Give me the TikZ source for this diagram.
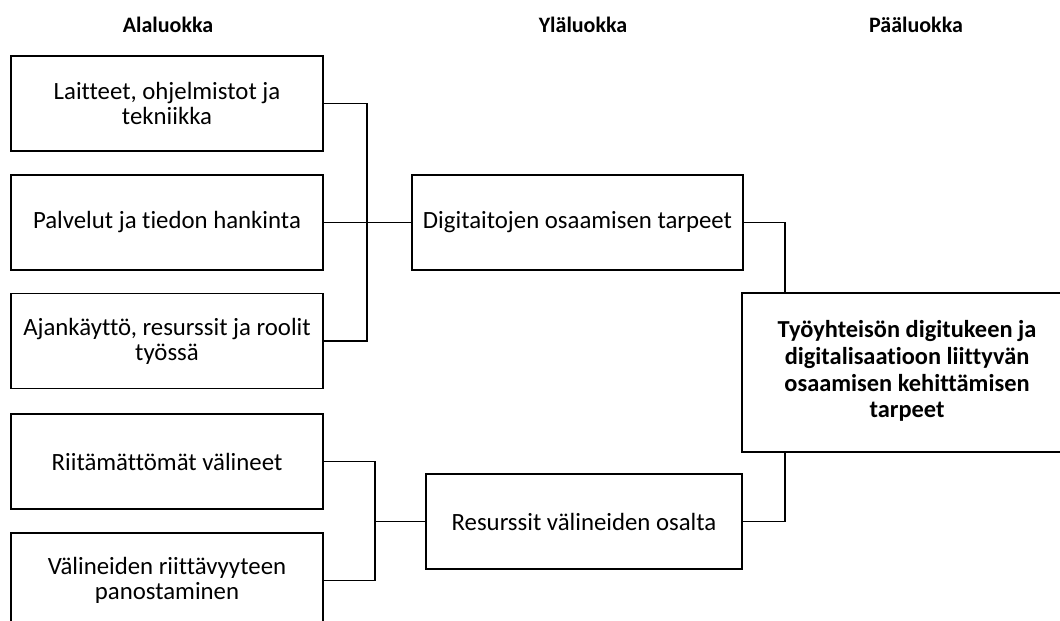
\documentclass[tikz,border=0pt]{standalone}
\usepackage{fontspec}
\setmainfont{Carlito}[Ligatures=NoCommon]
\begin{document}
\begin{tikzpicture}[x=1pt,y=-1pt,
  box/.style={draw=black,line width=1.6pt,minimum height=95pt,align=center,inner sep=0pt,
    font=\fontsize{24.8}{25}\selectfont},
  hdr/.style={font=\fontsize{22}{24}\selectfont\bfseries,inner sep=0pt},
  link/.style={draw=black,line width=1.6pt}]
\useasboundingbox (0,0) rectangle (1060,621);
\clip (0,0) rectangle (1060,621);
% headers
\node[hdr] (h1) at (168,25) {Alaluokka};
\node[hdr] (h2) at (583,25) {Yläluokka};
\node[hdr] (h3) at (916,25) {Pääluokka};
% lower-level boxes
\node[box,minimum width=312pt] (a1) at (167,103.5) {Laitteet, ohjelmistot ja\\tekniikka};
\node[box,minimum width=312pt] (a2) at (167,222.5) {Palvelut ja tiedon hankinta};
\node[box,minimum width=312pt] (a3) at (167,341) {Ajankäyttö, resurssit ja roolit\\työssä};
\node[box,minimum width=312pt] (a4) at (167,461.5) {Riitämättömät välineet};
\node[box,minimum width=312pt] (a5) at (167,580.5) {Välineiden riittävyyteen\\panostaminen};
% upper-level boxes
\node[box,minimum width=331pt] (y1) at (577.5,222.5) {Digitaitojen osaamisen tarpeet};
\node[box,minimum width=316pt] (y2) at (584,521.5) {Resurssit välineiden osalta};
% main box
\node[box,minimum width=340pt,minimum height=159pt,
  font=\fontsize{24.4}{26.7}\selectfont\bfseries] (m) at (912,372.5)
  {\hspace*{-10pt}\begin{tabular}{@{}c@{}}Työyhteisön digitukeen ja\\digitalisaatioon liittyvän\\osaamisen kehittämisen\\tarpeet\end{tabular}};
% junction coordinates
\coordinate (j1) at (367,0);
\coordinate (j2) at (375,0);
\coordinate (j3) at (785,0);
% connectors
\draw[link] (a1.east) -- (a1.east -| j1) -- (a3.east -| j1) -- (a3.east);
\draw[link] (a2.east) -- (y1.west);
\draw[link] (a4.east) -- (a4.east -| j2) -- (a5.east -| j2) -- (a5.east);
\draw[link] (y2.west -| j2) -- (y2.west);
\draw[link] (y1.east) -| (j3 |- m.north);
\draw[link] (y2.east) -| (j3 |- m.south);
\end{tikzpicture}
\end{document}
